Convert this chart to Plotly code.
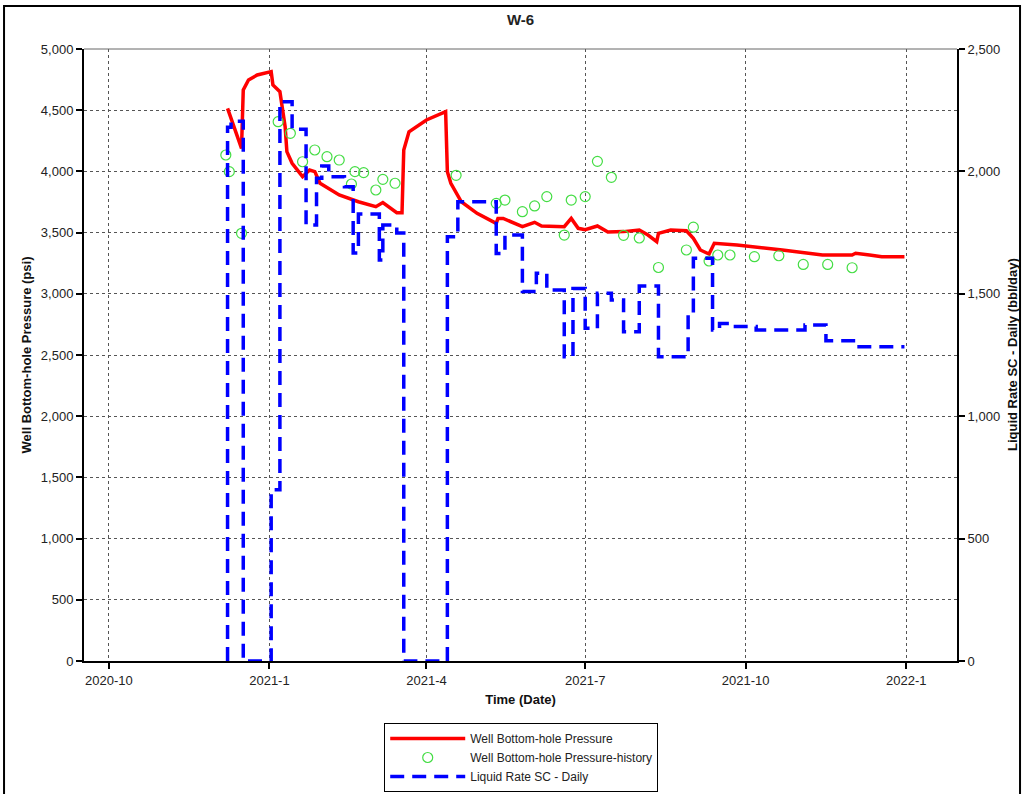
import plotly.graph_objects as go

# Well W-6: simulated bottom-hole pressure, measured pressure history and daily liquid rate
bhp_dates = [
    "2020-12-08", "2020-12-16", "2020-12-17", "2020-12-20", "2020-12-25",
    "2021-01-02", "2021-01-03", "2021-01-07", "2021-01-08", "2021-01-10",
    "2021-01-11", "2021-01-14", "2021-01-20", "2021-01-24", "2021-01-27",
    "2021-01-30", "2021-02-10", "2021-02-21", "2021-03-03", "2021-03-07",
    "2021-03-15", "2021-03-18", "2021-03-19", "2021-03-22", "2021-04-01",
    "2021-04-12", "2021-04-13", "2021-04-15", "2021-04-21", "2021-04-30",
    "2021-05-11", "2021-05-12", "2021-05-15", "2021-05-21", "2021-05-26",
    "2021-06-02", "2021-06-06", "2021-06-19", "2021-06-23", "2021-06-27",
    "2021-07-01", "2021-07-08", "2021-07-14", "2021-07-23", "2021-08-01",
    "2021-08-06", "2021-08-11", "2021-08-12", "2021-08-19", "2021-08-28",
    "2021-09-01", "2021-09-05", "2021-09-10", "2021-09-13", "2021-09-26",
    "2021-10-22", "2021-11-14", "2021-12-01", "2021-12-03", "2021-12-11",
    "2021-12-18", "2021-12-31",
]
bhp_psi = [
    4515, 4188, 4665, 4747, 4788,
    4815, 4706, 4651, 4556, 4365,
    4161, 4066, 3957, 4011, 3998,
    3903, 3807, 3752, 3712, 3745,
    3663, 3663, 4175, 4324, 4420,
    4488, 3998, 3903, 3752, 3657,
    3575, 3616, 3616, 3575, 3548,
    3584, 3554, 3548, 3616, 3535,
    3524, 3554, 3504, 3508, 3521,
    3480, 3426, 3494, 3521, 3515,
    3453, 3358, 3325, 3413, 3399,
    3358, 3317, 3317, 3331, 3317,
    3303, 3303,
]

hist_dates = [
    "2020-12-07", "2020-12-09", "2020-12-16", "2021-01-06", "2021-01-13",
    "2021-01-20", "2021-01-27", "2021-02-03", "2021-02-10", "2021-02-17",
    "2021-02-19", "2021-02-24", "2021-03-03", "2021-03-07", "2021-03-14",
    "2021-04-18", "2021-05-11", "2021-05-16", "2021-05-26", "2021-06-02",
    "2021-06-09", "2021-06-19", "2021-06-23", "2021-07-01", "2021-07-08",
    "2021-07-16", "2021-07-23", "2021-08-01", "2021-08-12", "2021-08-28",
    "2021-09-01", "2021-09-10", "2021-09-15", "2021-09-22", "2021-10-06",
    "2021-10-20", "2021-11-03", "2021-11-17", "2021-12-01",
]
hist_psi = [
    4134, 3998, 3494, 4406, 4311,
    4079, 4175, 4120, 4093, 3897,
    3998, 3990, 3848, 3935, 3903,
    3968, 3739, 3766, 3671, 3718,
    3794, 3480, 3766, 3794, 4082,
    3952, 3478, 3456, 3215, 3358,
    3544, 3268, 3317, 3317, 3303,
    3311, 3240, 3240, 3213,
]

# step series: each rate holds until the next date
rate_dates = [
    "2020-12-08", "2020-12-08", "2020-12-10", "2020-12-17", "2021-01-02",
    "2021-01-07", "2021-01-14", "2021-01-22", "2021-01-28", "2021-01-31",
    "2021-02-04", "2021-02-13", "2021-02-18", "2021-02-21", "2021-03-05",
    "2021-03-07", "2021-03-15", "2021-03-19", "2021-04-13", "2021-04-19",
    "2021-05-11", "2021-05-16", "2021-05-26", "2021-06-03", "2021-06-09",
    "2021-06-19", "2021-06-24", "2021-07-01", "2021-07-08", "2021-07-16",
    "2021-07-23", "2021-08-01", "2021-08-12", "2021-08-29", "2021-09-01",
    "2021-09-12", "2021-09-16", "2021-09-23", "2021-10-07", "2021-11-04",
    "2021-11-16", "2021-12-03", "2021-12-31",
]
rate_bbl = [
    0, 2180, 2205, 0, 700,
    2285, 2172, 1781, 1972, 2022,
    1978, 1937, 1667, 1826, 1638,
    1781, 1748, 0, 1733, 1876,
    1665, 1740, 1509, 1584, 1516,
    1243, 1522, 1359, 1502, 1475,
    1345, 1532, 1243, 1420, 1645,
    1352, 1379, 1366, 1352, 1373,
    1308, 1284, 1284,
]

tick_dates = ["2020-10-01", "2021-01-01", "2021-04-01", "2021-07-01", "2021-10-01", "2022-01-01"]
tick_text = ["2020-10", "2021-1", "2021-4", "2021-7", "2021-10", "2022-1"]

FONT = "Arial, Liberation Sans, sans-serif"

fig = go.Figure()
fig.add_trace(go.Scatter(
    x=bhp_dates, y=bhp_psi, mode="lines", name="Well Bottom-hole Pressure",
    line=dict(color="#ff0000", width=3.5),
))
fig.add_trace(go.Scatter(
    x=hist_dates, y=hist_psi, mode="markers", name="Well Bottom-hole Pressure-history",
    marker=dict(symbol="circle-open", size=10, color="#44dd44", line=dict(width=1.2)),
))
fig.add_trace(go.Scatter(
    x=rate_dates, y=rate_bbl, mode="lines", name="Liquid Rate SC - Daily",
    line=dict(color="#0000ff", width=3.5, dash="14px,8px", shape="hv"),
    yaxis="y2",
))

axis_common = dict(
    showline=True, linecolor="black", linewidth=2,
    ticks="outside", ticklen=6, tickwidth=2, tickcolor="black",
    tickfont=dict(family=FONT, size=13, color="#222"),
    zeroline=False, automargin=False,
)

fig.update_layout(
    width=1024, height=794,
    margin=dict(l=84, r=67, t=49, b=133, autoexpand=False),
    paper_bgcolor="white", plot_bgcolor="white",
    font=dict(family=FONT, size=12, color="#222"),
    title=dict(text="<b>W-6</b>", x=0.5, xref="paper", y=0.975, yanchor="middle",
               font=dict(family=FONT, size=15, color="#222")),
    xaxis=dict(
        type="date", range=["2020-09-16T17:00", "2022-01-30T03:00"],
        tickvals=tick_dates, ticktext=tick_text,
        showgrid=True, gridcolor="#555", griddash="dot", gridwidth=1,
        title=dict(text="<b>Time (Date)</b>", standoff=8,
                   font=dict(family=FONT, size=13, color="#111")),
        **axis_common,
    ),
    yaxis=dict(
        range=[0, 5000], dtick=500, tickformat=",",
        showgrid=True, gridcolor="#555", griddash="dot", gridwidth=1,
        title=dict(text="<b>Well Bottom-hole Pressure (psi)</b>", standoff=6,
                   font=dict(family=FONT, size=13, color="#111")),
        **axis_common,
    ),
    yaxis2=dict(
        overlaying="y", side="right", range=[0, 2500], dtick=500, tickformat=",",
        showgrid=False,
        **axis_common,
    ),
    legend=dict(
        xref="container", yref="container",
        x=0.509, xanchor="center", y=1 - 723 / 794, yanchor="top",
        bordercolor="black", borderwidth=1, bgcolor="white",
        font=dict(family=FONT, size=12, color="#222"),
        tracegroupgap=0, itemwidth=75,
    ),
    showlegend=True,
    annotations=[
        # right-hand axis title
        dict(text="<b>Liquid Rate SC - Daily (bbl/day)</b>", textangle=-90,
             xref="paper", yref="paper", x=(1012 - 84) / 873, y=0.5,
             xanchor="center", yanchor="middle", showarrow=False,
             font=dict(family=FONT, size=13, color="#111")),
    ],
    shapes=[
        # thin frame line along the top of the plot area
        dict(type="line", xref="paper", yref="paper", x0=0, x1=1, y0=1, y1=1,
             line=dict(color="#666", width=1)),
        # outer frame around the whole chart
        dict(type="rect", xref="paper", yref="paper",
             x0=-0.0916, x1=1.0722, y0=-0.25, y1=1.0703,
             line=dict(color="black", width=2), layer="below"),
    ],
)

fig.write_html("out.html")
